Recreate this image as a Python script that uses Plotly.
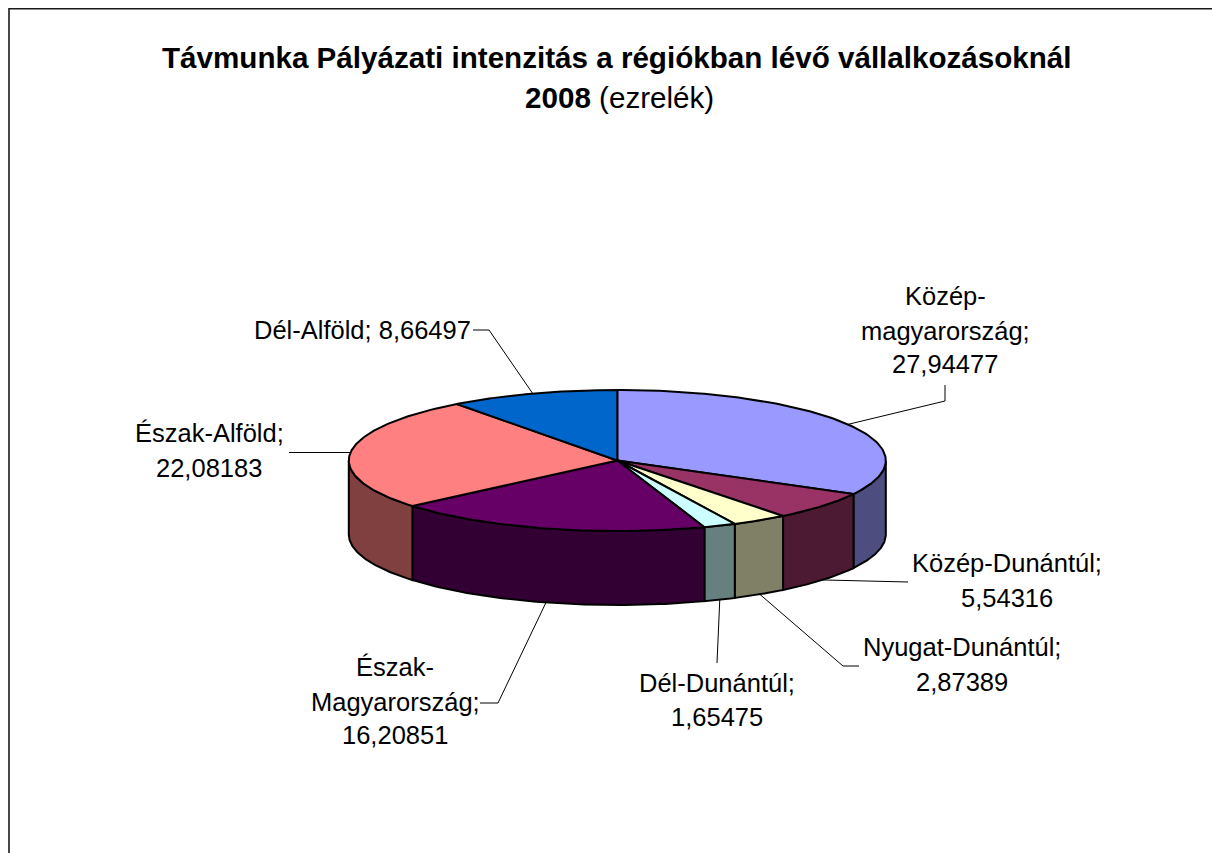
import numpy as np
import plotly.graph_objects as go

# ---- data ----
regions = ["Közép-magyarország", "Közép-Dunántúl", "Nyugat-Dunántúl", "Dél-Dunántúl",
           "Észak-Magyarország", "Észak-Alföld", "Dél-Alföld"]
values = [27.94477, 5.54316, 2.87389, 1.65475, 16.20851, 22.08183, 8.66497]
top_colors = ["#9999FF", "#993366", "#FFFFCC", "#CCFFFF", "#660066", "#FF8080", "#0066CC"]
side_colors = ["#4D4D80", "#4D1A33", "#808066", "#668080", "#330033", "#804040", "#003366"]
label_name_lines = [["Közép-", "magyarország;"], ["Közép-Dunántúl;"], ["Nyugat-Dunántúl;"], ["Dél-Dunántúl;"],
                    ["Észak-", "Magyarország;"], ["Észak-Alföld;"], ["Dél-Alföld;"]]

# ---- layout constants (pixels) ----
W, H = 1212, 853
CX, CY, RX, RY, DEPTH = 617.3, 460.5, 268.5, 70.5, 74
FONT = "Liberation Sans, Arial, sans-serif"
LABEL_SIZE = 25.5
TITLE_SIZE = 29.6
LABEL_X = [945, 1007, 962, 717, 395, 209, 362]
LABEL_Y = [[296, 331, 364], [563, 598], [647, 682], [683, 717], [667, 702, 735], [433, 468], [330]]
LEADER_TAIL = [[(945, 401), (945, 385)], [(908, 582)], [(843, 666), (859, 666)], [(717, 663)],
               [(498, 703), (480, 703)], [(289, 452.5)], [(489, 330), (473, 330)]]


def pt(theta_deg, drop=0.0):
    t = np.radians(theta_deg)
    return CX + RX * np.sin(t), CY - RY * np.cos(t) + drop


fig = go.Figure()
fracs = np.array(values) / sum(values)
edges = np.concatenate([[0], np.cumsum(fracs) * 360])


def poly(xs, ys, fill):
    fig.add_trace(go.Scatter(x=xs, y=ys, mode="lines", fill="toself", fillcolor=fill,
                             line=dict(color="#000000", width=2), hoverinfo="skip", showlegend=False))


# visible side walls (front half of the rim only)
for i, name in enumerate(regions):
    a, b = max(edges[i], 90), min(edges[i + 1], 270)
    if b <= a:
        continue
    th = np.linspace(a, b, 80)
    x, y = pt(th)
    x2, y2 = pt(th[::-1], DEPTH)
    poly(np.r_[x, x2, x[0]], np.r_[y, y2, y[0]], side_colors[i])

# top faces
for i, name in enumerate(regions):
    th = np.linspace(edges[i], edges[i + 1], 120)
    x, y = pt(th)
    poly(np.r_[CX, x, CX], np.r_[CY, y, CY], top_colors[i])

# leader lines start at each slice's mid angle, on the rim
for i, name in enumerate(regions):
    mid = (edges[i] + edges[i + 1]) / 2
    drop = DEPTH if 90 < mid < 270 else 0
    x0, y0 = pt(mid, drop)
    xs = [x0] + [p[0] for p in LEADER_TAIL[i]]
    ys = [y0] + [p[1] for p in LEADER_TAIL[i]]
    fig.add_trace(go.Scatter(x=xs, y=ys, mode="lines", line=dict(color="#000000", width=1),
                             hoverinfo="skip", showlegend=False))

# data labels, one annotation per line to hold the original line spacing
ann = []
for i, v in enumerate(values):
    val = f"{v:.5f}".replace(".", ",")
    if regions[i] == "Dél-Alföld":
        lines = [label_name_lines[i][0] + " " + val]
    else:
        lines = label_name_lines[i] + [val]
    for text, y in zip(lines, LABEL_Y[i]):
        ann.append(dict(x=LABEL_X[i], y=y, text=text, showarrow=False, xanchor="center", yanchor="middle",
                        font=dict(family=FONT, size=LABEL_SIZE, color="#000000")))

ann.append(dict(x=617, y=57, showarrow=False, xanchor="center", yanchor="middle",
                text="<b>Távmunka Pályázati intenzitás a régiókban lévő vállalkozásoknál</b>",
                font=dict(family=FONT, size=TITLE_SIZE, color="#000000")))
ann.append(dict(x=619, y=97, showarrow=False, xanchor="center", yanchor="middle",
                text="<b>2008</b> (ezrelék)",
                font=dict(family=FONT, size=TITLE_SIZE, color="#000000")))

fig.update_layout(
    width=W, height=H, margin=dict(l=0, r=0, t=0, b=0),
    paper_bgcolor="#FFFFFF", plot_bgcolor="#FFFFFF", showlegend=False,
    xaxis=dict(range=[0, W], visible=False, fixedrange=True),
    yaxis=dict(range=[H, 0], visible=False, fixedrange=True),
    annotations=ann,
    shapes=[
        dict(type="line", x0=9, x1=W, y0=8.7, y1=8.7, line=dict(color="#1A1A1A", width=1.6)),
        dict(type="line", x0=9, x1=9, y0=8, y1=H, line=dict(color="#1A1A1A", width=1.6)),
    ],
)
fig.write_html("out.html", config={"displayModeBar": False},
               post_script="document.body.style.margin='0';document.body.style.overflow='hidden';")
